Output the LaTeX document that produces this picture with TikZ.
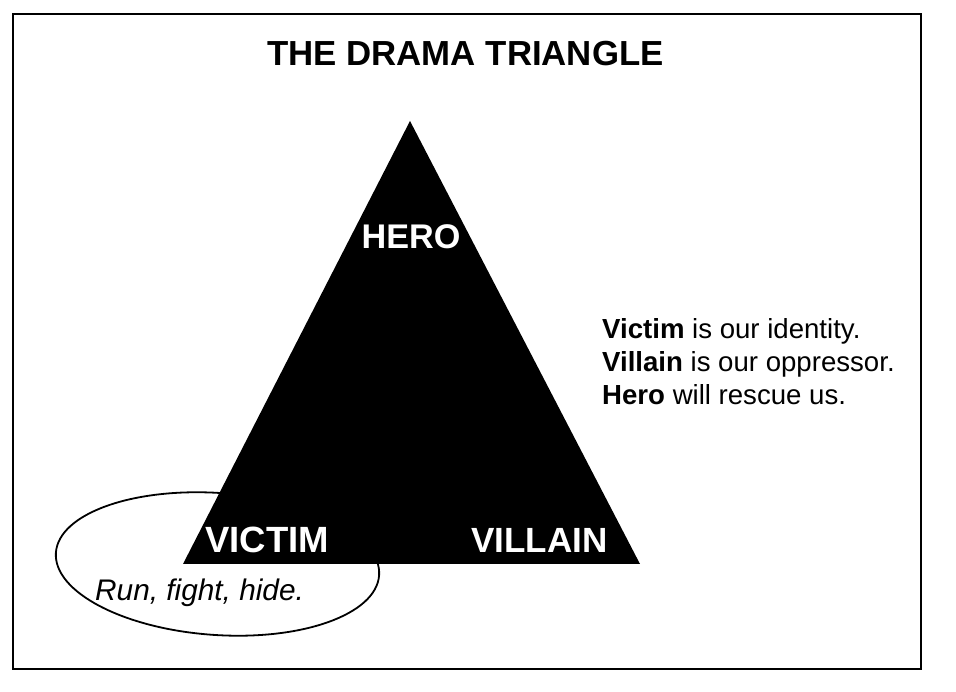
\documentclass[tikz,border=0pt]{standalone}
\usepackage{fontspec}
\setmainfont{Liberation Sans}
\usetikzlibrary{shapes.geometric}
\tikzset{
  biglabel/.style={text=white, font=\fontsize{#1}{40}\selectfont\bfseries, inner sep=0pt, anchor=base},
  biglabel/.default=34,
  sidetext/.style={font=\fontsize{27.6}{33}\selectfont, inner sep=0pt, anchor=base west},
}
\begin{document}
\begin{tikzpicture}[x=1pt,y=1pt]
\useasboundingbox (0,0) rectangle (956,692);
\draw[line width=2.5pt] (13,23) rectangle (921,678);
\node[font=\fontsize{34.8}{40}\selectfont\bfseries, inner sep=0pt, anchor=base] (title) at (465.5,626) {THE DRAMA TRIANGLE};
\node[ellipse, draw, line width=1.8pt, fill=white, minimum width=324pt, minimum height=142pt, inner sep=0pt, rotate=-4] (ell) at (217.5,128) {};
\coordinate (apex) at (410,571);
\coordinate (bl) at (183,128);
\coordinate (br) at (640,128);
\fill[black] (apex) -- (bl) -- (br) -- cycle;
\node[biglabel=34.2] (hero) at (411,443) {HERO};
\node[biglabel=36.5] (victim) at (267,139) {VICTIM};
\node[biglabel=35] (villain) at (539.5,139) {VILLAIN};
\node[font=\fontsize{29.8}{33}\selectfont\itshape, inner sep=0pt, anchor=base west] (run) at (95,91) {Run, fight, hide.};
\node[sidetext] (l1) at (602,353) {\textbf{Victim} is our identity.};
\node[sidetext] (l2) at (602,320) {\textbf{Villain} is our oppressor.};
\node[sidetext] (l3) at (602,287) {\textbf{Hero} will rescue us.};
\end{tikzpicture}
\end{document}
